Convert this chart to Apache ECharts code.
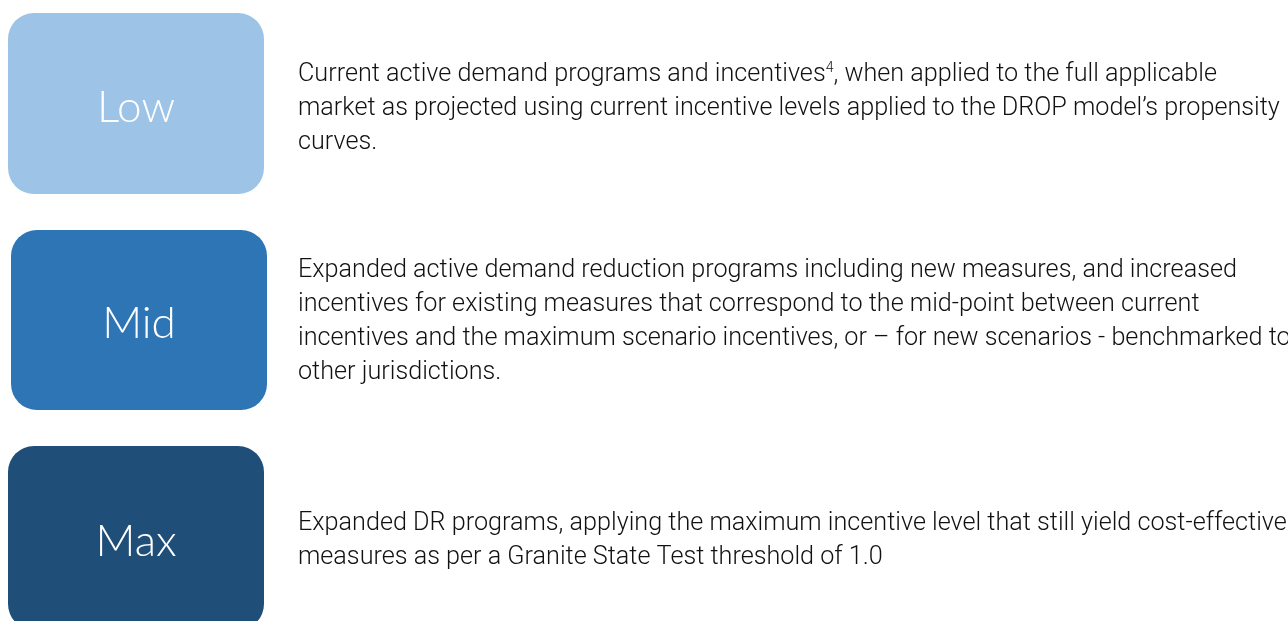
<!DOCTYPE html>
<html>
<head>
    <meta charset="utf-8">
    <title>Demand response scenarios</title>
    <script src="https://cdn.jsdelivr.net/npm/echarts@6/dist/echarts.min.js"></script>
    <style>
        html, body { margin: 0; padding: 0; background: #fff; }
    </style>
</head>
<body>
    <div id="main" style="width:1288px;height:621px;"></div>

    <script type="text/javascript">
        // scenario names and their descriptions (one string per printed line)
        var levels = ['Low', 'Mid', 'Max'];
        var descLow = [
            'Current active demand programs and incentives{sup|4}, when applied to the full applicable',
            'market as projected using current incentive levels applied to the DROP model\u2019s propensity',
            'curves.'
        ];
        var descMid = [
            'Expanded active demand reduction programs including new measures, and increased',
            'incentives for existing measures that correspond to the mid-point between current',
            'incentives and the maximum scenario incentives, or \u2013 for new scenarios - benchmarked to',
            'other jurisdictions.'
        ];
        var descMax = [
            'Expanded DR programs, applying the maximum incentive level that still yield cost-effective',
            'measures as per a Granite State Test threshold of 1.0'
        ];
        var descriptions = [descLow, descMid, descMax];

        var boxColors = ['#9dc3e6', '#2e75b6', '#1f4e79'];
        var boxes = [
            {x: 8, y: 13, w: 256, h: 181},
            {x: 11, y: 230, w: 256, h: 180},
            {x: 8, y: 446, w: 256, h: 184}
        ];
        var textTop = [75, 271, 524];
        var lineH = 34;

        var elements = [];
        for (var i = 0; i < levels.length; i++) {
            var b = boxes[i];
            elements.push({
                type: 'rect',
                shape: {x: b.x, y: b.y, width: b.w, height: b.h, r: 26},
                style: {fill: boxColors[i]}
            });
            elements.push({
                type: 'text',
                x: b.x + b.w / 2,
                y: b.y + b.h / 2 + 4,
                style: {
                    text: levels[i],
                    fill: '#fff',
                    fontFamily: 'Lato',
                    fontWeight: 300,
                    fontSize: 44,
                    align: 'center',
                    verticalAlign: 'middle'
                }
            });
            var lines = descriptions[i];
            for (var j = 0; j < lines.length; j++) {
                elements.push({
                    type: 'text',
                    x: 298,
                    y: textTop[i] + j * lineH,
                    style: {
                        text: lines[j],
                        fill: '#111',
                        fontFamily: 'Roboto',
                        fontWeight: 300,
                        fontSize: 25.2,
                        verticalAlign: 'middle',
                        rich: {
                            sup: {fontSize: 14, fontFamily: 'Roboto', fontWeight: 300, verticalAlign: 'top', padding: [0, 0, 14, 0], fill: '#111'}
                        }
                    }
                });
            }
        }

        var chart = echarts.init(document.getElementById('main'));
        chart.setOption({
            animation: false,
            graphic: {elements: elements}
        });
    </script>
</body>
</html>
